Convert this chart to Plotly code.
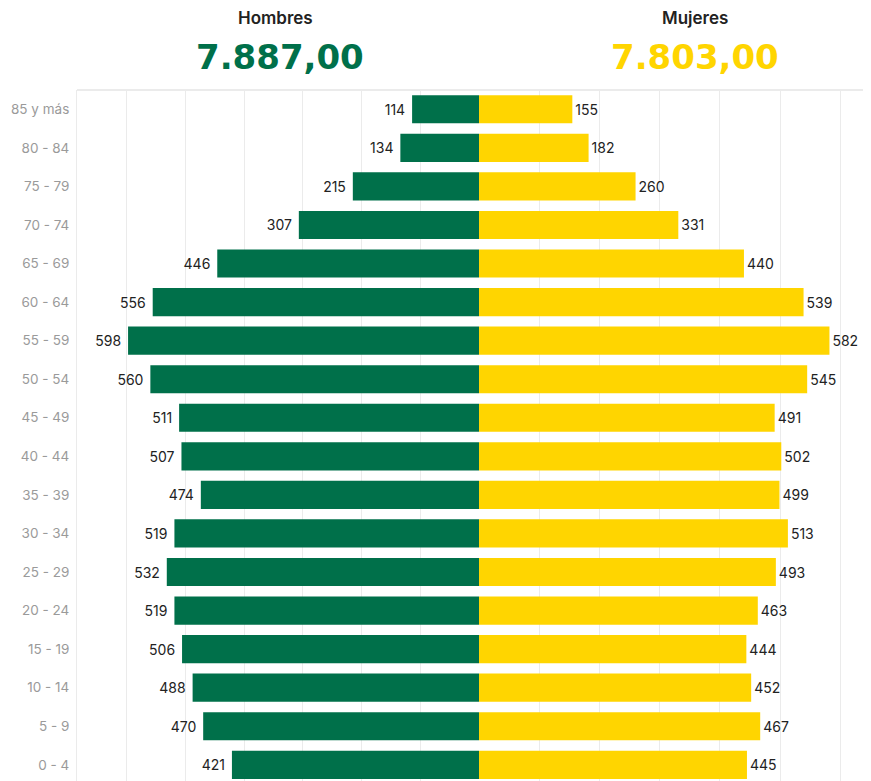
import plotly.graph_objects as go

# age groups, top to bottom as shown
age_groups = ["85 y más", "80 - 84", "75 - 79", "70 - 74", "65 - 69", "60 - 64",
              "55 - 59", "50 - 54", "45 - 49", "40 - 44", "35 - 39", "30 - 34",
              "25 - 29", "20 - 24", "15 - 19", "10 - 14", "5 - 9", "0 - 4"]
hombres = [114, 134, 215, 307, 446, 556, 598, 560, 511, 507, 474, 519, 532, 519, 506, 488, 470, 421]
mujeres = [155, 182, 260, 331, 440, 539, 582, 545, 491, 502, 499, 513, 493, 463, 444, 452, 467, 445]
total_hombres = "7.887,00"
total_mujeres = "7.803,00"

GREEN = "#00704A"
YELLOW = "#FFD500"
GRID = "#ebebeb"
FONT = "Inter, Open Sans, sans-serif"

# the page body has an 8px margin, so the figure is laid out 8px up/left
OFF = 8
W, H = 871 - OFF, 781 - OFF
L, T = 77 - OFF, 90 - OFF
mid_px = 479 - OFF
split = (mid_px - L) / (W - L)

fig = go.Figure()

fig.add_trace(go.Bar(
    y=age_groups, x=hombres, orientation="h", name="Hombres",
    marker=dict(color=GREEN, line=dict(width=0)),
    texttemplate="%{x}\u00a0", textposition="outside", cliponaxis=False,
    textfont=dict(color="#222222", size=14, family=FONT),
    width=0.73, xaxis="x", yaxis="y",
))
fig.add_trace(go.Bar(
    y=age_groups, x=mujeres, orientation="h", name="Mujeres",
    marker=dict(color=YELLOW, line=dict(width=0)),
    texttemplate="%{x}", textposition="outside", cliponaxis=False,
    textfont=dict(color="#222222", size=14, family=FONT),
    width=0.73, xaxis="x2", yaxis="y",
))

fig.update_layout(
    width=W, height=H,
    margin=dict(l=L, r=0, t=T, b=0, autoexpand=False),
    paper_bgcolor="white", plot_bgcolor="white",
    showlegend=False,
    font=dict(family=FONT, color="#222222"),
    xaxis=dict(domain=[0, split], range=[685, 0], dtick=100, showticklabels=False,
               showgrid=True, gridcolor=GRID, zeroline=False, automargin=False),
    xaxis2=dict(domain=[split, 1], range=[0, 651], dtick=100, showticklabels=False,
                showgrid=True, gridcolor=GRID, zeroline=False, automargin=False),
    yaxis=dict(categoryorder="array", categoryarray=age_groups[::-1],
               range=[-0.42, 17.5], showgrid=False, zeroline=False, automargin=False,
               showline=True, linecolor=GRID, linewidth=1,
               ticks="outside", ticklen=4, tickcolor="white",
               tickfont=dict(color="#9a9a9a", size=13.5, family=FONT)),
    shapes=[dict(type="line", xref="paper", yref="paper", x0=0, x1=1, y0=1, y1=1,
                 line=dict(color=GRID, width=2))],
)

def py(p):
    return (H - (p - OFF)) / (H - T)

def px_(p):
    return ((p - OFF) - L) / (W - L)

headers = [
    (275, 18, "Hombres", dict(size=17, color="#222222", family=FONT, weight=600)),
    (280, 57, total_hombres, dict(size=34, color=GREEN, family="DejaVu Sans", weight=700)),
    (695, 18, "Mujeres", dict(size=17, color="#222222", family=FONT, weight=600)),
    (695, 57, total_mujeres, dict(size=34, color=YELLOW, family="DejaVu Sans", weight=700)),
]
for x, y, txt, f in headers:
    fig.add_annotation(x=px_(x), y=py(y), xref="paper", yref="paper", text=txt,
                       xanchor="center", yanchor="middle", showarrow=False, font=f)

fig.write_html("out.html")
